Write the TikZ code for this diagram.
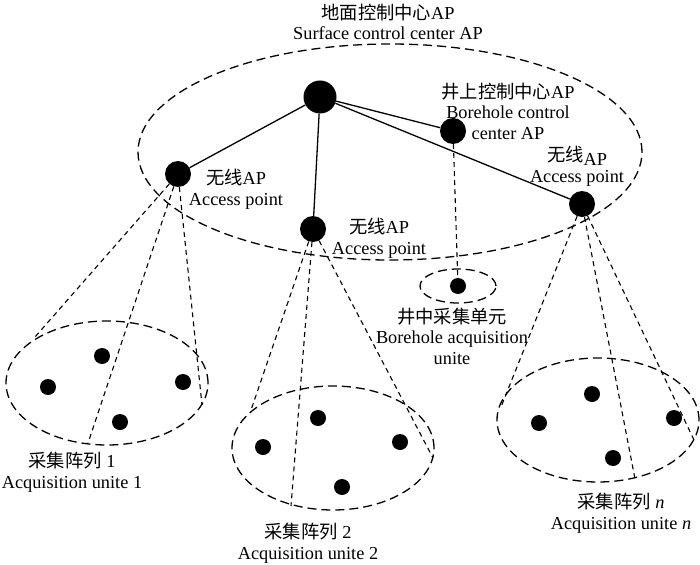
\documentclass[tikz,border=0pt]{standalone}
\usepackage{fontspec}
\setmainfont{Liberation Serif}
\newfontfamily\cjk{Noto Sans CJK SC}
\begin{document}
\begin{tikzpicture}[x=1pt,y=-1pt,
  hubdot/.style={circle,fill=black,inner sep=0pt,minimum size=33pt},
  apdot/.style={circle,fill=black,inner sep=0pt,minimum size=26pt},
  sdot/.style={circle,fill=black,inner sep=0pt,minimum size=16pt},
  lbl/.style={align=center,inner sep=0pt,font=\fontsize{18.3}{20.5}\selectfont},
  link/.style={line width=1.3pt},
  cone/.style={line width=1.1pt,dash pattern=on 5pt off 4pt},
  region/.style={line width=1.3pt,dash pattern=on 9pt off 5pt}]
\useasboundingbox (0,0) rectangle (700,564);

% regions
\draw[region] (390,152) ellipse [x radius=252pt, y radius=108pt];
\draw[region] (107,383) ellipse [x radius=101pt, y radius=62pt];
\draw[region] (333,448) ellipse [x radius=101pt, y radius=62pt];
\draw[region] (598,420) ellipse [x radius=101pt, y radius=62pt];
\draw[region] (458,286) ellipse [x radius=38pt, y radius=17pt];

% access points
\node[hubdot] (hub) at (320,97) {};
\node[apdot] (bcap) at (453,131) {};
\node[apdot] (ap1) at (178,174) {};
\node[apdot] (ap2) at (313,229) {};
\node[apdot] (apn) at (582,204) {};

% acquisition dots
\node[sdot] (bdot) at (458,286) {};
\node[sdot] (a11) at (102,356) {};
\node[sdot] (a12) at (48,387) {};
\node[sdot] (a13) at (183,382) {};
\node[sdot] (a14) at (120,422) {};
\node[sdot] (a21) at (318,418) {};
\node[sdot] (a22) at (263,447) {};
\node[sdot] (a23) at (400,442) {};
\node[sdot] (a24) at (342,487) {};
\node[sdot] (an1) at (592,394) {};
\node[sdot] (an2) at (539,423) {};
\node[sdot] (an3) at (674,418) {};
\node[sdot] (an4) at (613,458) {};

% cone end points
\coordinate (c1a) at (35,337);
\coordinate (c1b) at (88,443);
\coordinate (c1c) at (202,405);
\coordinate (c2a) at (250,413);
\coordinate (c2b) at (291,506);
\coordinate (c2c) at (433,458);
\coordinate (cna) at (501,407);
\coordinate (cnb) at (635,479);
\coordinate (cnc) at (694,440);

% links
\draw[link] (hub) -- (ap1);
\draw[link] (hub) -- (ap2);
\draw[link] (hub) -- (bcap);
\draw[link] (hub) -- (apn);

\draw[cone] (bcap) -- (bdot);
\draw[cone] (ap1) -- (c1a);
\draw[cone] (ap1) -- (c1b);
\draw[cone] (ap1) -- (c1c);
\draw[cone] (ap2) -- (c2a);
\draw[cone] (ap2) -- (c2b);
\draw[cone] (ap2) -- (c2c);
\draw[cone] (apn) -- (cna);
\draw[cone] (apn) -- (cnb);
\draw[cone] (apn) -- (cnc);

% labels
\node[lbl] (tl) at (388,22) {{\cjk 地面控制中心}AP\\Surface control center AP};
\node[lbl] (bl) at (508,111) {{\cjk 井上控制中心}AP\\Borehole control\\center AP};
\node[lbl] (l1) at (236,189) {{\cjk 无线}AP\\Access point};
\node[lbl] (l2) at (379,238) {{\cjk 无线}AP\\Access point};
\node[lbl] (ln) at (577,166) {{\cjk 无线}\raisebox{-4pt}{AP}\\Access point};
\node[lbl] (lb) at (452,336) {{\cjk 井中采集单元}\\Borehole acquisition\\unite};
\node[lbl] (la1) at (72,472) {{\cjk 采集阵列} 1\\Acquisition unite 1};
\node[lbl] (la2) at (308,543) {{\cjk 采集阵列} 2\\Acquisition unite 2};
\node[lbl] (lan) at (621,513) {{\cjk 采集阵列} \textit{n}\\Acquisition unite \textit{n}};
\end{tikzpicture}
\end{document}
